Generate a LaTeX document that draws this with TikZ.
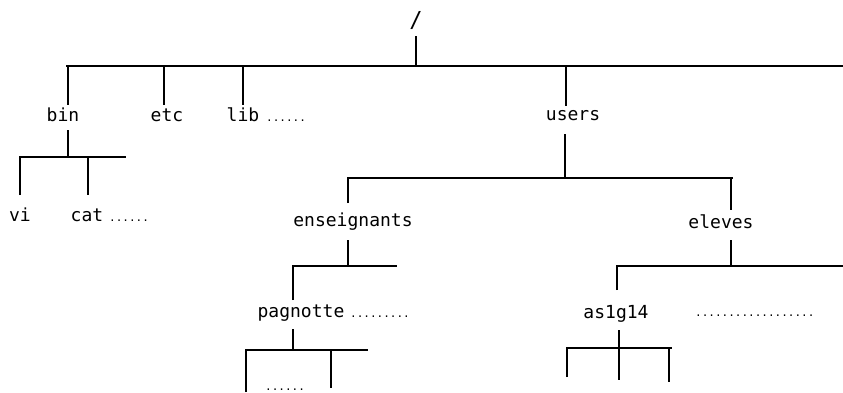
\documentclass[tikz,border=0pt]{standalone}
\usepackage{fontspec}
\newfontfamily\labfont{DejaVu Sans Mono}
\begin{document}
\begin{tikzpicture}[x=1pt,y=-1pt,
  lab/.style={font=\labfont\fontsize{18}{18}\selectfont, inner sep=0pt, anchor=base},
  dotsx/.style={font=\labfont\fontsize{11}{11}\selectfont, inner sep=0pt, anchor=base west},
  ln/.style={line width=1.3pt, line cap=butt}]
\useasboundingbox[fill=white] (0,0) rectangle (843,392);
% labels
\node[lab, font=\labfont\fontsize{22}{22}\selectfont] (root) at (416,27) {/};
\node[lab] (bin) at (63,121) {bin};
\node[lab] (etc) at (167,121) {etc};
\node[lab] (lib) at (243,121) {lib};
\node[dotsx] (libd) at (266,121) {......};
\node[lab] (users) at (573,120) {users};
\node[lab] (vi) at (20,221) {vi};
\node[lab] (cat) at (87,221) {cat};
\node[dotsx] (catd) at (109,221) {......};
\node[lab] (ens) at (353,226) {enseignants};
\node[lab] (eleves) at (721,228) {eleves};
\node[lab] (pag) at (301,317) {pagnotte};
\node[dotsx] (pagd) at (350,317) {.........};
\node[lab] (as) at (616,318) {as1g14};
\node[dotsx] (asd) at (695,316) {..................};
\node[dotsx] (botd) at (265,390) {......};
% coordinates
\coordinate (r0) at (416,36);
\coordinate (r1) at (416,66);
\coordinate (hL) at (66,66);
\coordinate (hR) at (843,66);
\coordinate (b0) at (68,66);   \coordinate (b1) at (68,105);
\coordinate (e0) at (164,66);  \coordinate (e1) at (164,105);
\coordinate (l0) at (243,66);  \coordinate (l1) at (243,105);
\coordinate (u0) at (566,66);  \coordinate (u1) at (566,106);
% bin subtree
\coordinate (bb0) at (68,130); \coordinate (bb1) at (68,157);
\coordinate (bhL) at (20,157); \coordinate (bhR) at (126,157);
\coordinate (vi0) at (20,195);
\coordinate (ca0) at (88,157); \coordinate (ca1) at (88,195);
% users subtree
\coordinate (ub0) at (565,134); \coordinate (ub1) at (565,178);
\coordinate (uhL) at (348,178); \coordinate (uhR) at (733,178);
\coordinate (en1) at (348,203);
\coordinate (el0) at (731,178); \coordinate (el1) at (731,210);
% enseignants subtree
\coordinate (eb0) at (348,240); \coordinate (eb1) at (348,266);
\coordinate (ehL) at (293,266); \coordinate (ehR) at (397,266);
\coordinate (pg1) at (293,300);
% pagnotte subtree
\coordinate (pb0) at (293,329); \coordinate (pb1) at (293,350);
\coordinate (phL) at (246,350); \coordinate (phR) at (368,350);
\coordinate (pa1) at (246,392);
\coordinate (pc0) at (331,350); \coordinate (pc1) at (331,388);
% eleves subtree
\coordinate (lb0) at (731,240); \coordinate (lb1) at (731,266);
\coordinate (lhL) at (617,266); \coordinate (lhR) at (843,266);
\coordinate (as1) at (617,290);
% as1g14 subtree
\coordinate (ab0) at (619,330); \coordinate (ab1) at (619,380);
\coordinate (ahL) at (567,348); \coordinate (ahR) at (672,348);
\coordinate (aa1) at (567,377);
\coordinate (ac0) at (669,348); \coordinate (ac1) at (669,382);
% lines
\draw[ln] (r0) -- (r1);
\draw[ln] (hL) -- (hR);
\draw[ln] (b0) -- (b1);
\draw[ln] (e0) -- (e1);
\draw[ln] (l0) -- (l1);
\draw[ln] (u0) -- (u1);
\draw[ln] (bb0) -- (bb1);
\draw[ln] (vi0) -- (bhL) -- (bhR);
\draw[ln] (ca0) -- (ca1);
\draw[ln] (ub0) -- (ub1);
\draw[ln] (en1) -- (uhL) -- (uhR);
\draw[ln] (el0) -- (el1);
\draw[ln] (eb0) -- (eb1);
\draw[ln] (pg1) -- (ehL) -- (ehR);
\draw[ln] (pb0) -- (pb1);
\draw[ln] (pa1) -- (phL) -- (phR);
\draw[ln] (pc0) -- (pc1);
\draw[ln] (lb0) -- (lb1);
\draw[ln] (as1) -- (lhL) -- (lhR);
\draw[ln] (ab0) -- (ab1);
\draw[ln] (aa1) -- (ahL) -- (ahR);
\draw[ln] (ac0) -- (ac1);
\end{tikzpicture}
\end{document}
